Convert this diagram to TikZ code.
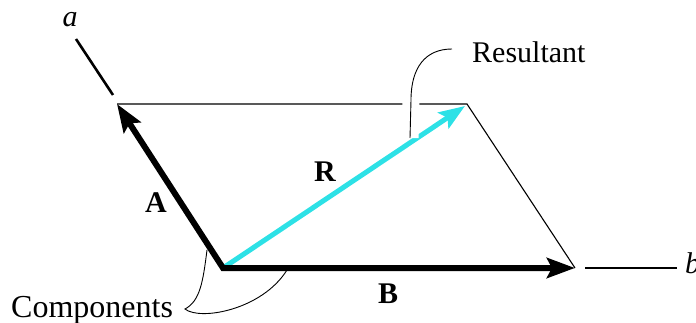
\documentclass[tikz,border=0pt]{standalone}
\usepackage{fontspec}
\setmainfont{Liberation Serif}
\usetikzlibrary{arrows.meta}
\definecolor{rescyan}{RGB}{45,225,230}

\begin{document}
\begin{tikzpicture}[x=1pt,y=-1pt,
  txt/.style={font=\fontsize{30}{32}\selectfont,inner sep=0pt},
  vec/.style={line width=6pt,{Stealth[length=28pt,width=20pt,inset=5pt]}-{Stealth[length=28pt,width=20pt,inset=5pt]}},
  resvec/.style={rescyan,line width=5pt,-{Stealth[length=26pt,width=19pt,inset=5pt]}},
  axisline/.style={line width=2.6pt},
  thinline/.style={line width=1.1pt},
  leader/.style={line width=0.9pt,preaction={draw,white,line width=17pt}}]
\useasboundingbox (0,0) rectangle (696,323);
% corners of the parallelogram
\coordinate (O) at (223,268);
\coordinate (Atip) at (117,104);
\coordinate (Btip) at (575,268);
\coordinate (Ctop) at (467,104);
\coordinate (Rtip) at (465,106);
% axes
\coordinate (a1) at (113,95);  \coordinate (a2) at (76,39);
\coordinate (b1) at (585,268); \coordinate (b2) at (677,268);
\draw[axisline] (a1) -- (a2);
\draw[axisline] (b1) -- (b2);
\node[txt,anchor=base] (alab) at (70,27) {\textit{a}};
\node[txt,anchor=base west] (blab) at (685,273) {\textit{b}};
% parallelogram
\draw[thinline] (Atip) -- (Ctop) -- (Btip);
% vectors
\draw[resvec] (O) -- (Rtip);
\draw[vec] (Atip) -- (O) -- (Btip);
\node[txt,anchor=base] (Alab) at (156,213) {\textbf{A}};
\node[txt,anchor=base] (Blab) at (388,303) {\textbf{B}};
\node[txt,anchor=base] (Rlab) at (325,182) {\textbf{R}};
% callouts
\node[txt,anchor=base west] (res) at (472,63) {Resultant};
\node[txt,font=\fontsize{32}{34}\selectfont,anchor=base west] (comp) at (11,317) {Components};
\coordinate (resstart) at (452,49);
\coordinate (resend) at (410,138);
\coordinate (curl) at (185,309);
\coordinate (onA) at (207,250);
\coordinate (onB) at (287,270);
\draw[leader] (resstart) .. controls (425,49) and (411,68) .. (411,100) -- (resend);
\draw[line width=0.9pt] (onA) .. controls (203,282) and (200,301) .. (curl)
  .. controls (200,321) and (262,310) .. (onB);
\end{tikzpicture}
\end{document}
